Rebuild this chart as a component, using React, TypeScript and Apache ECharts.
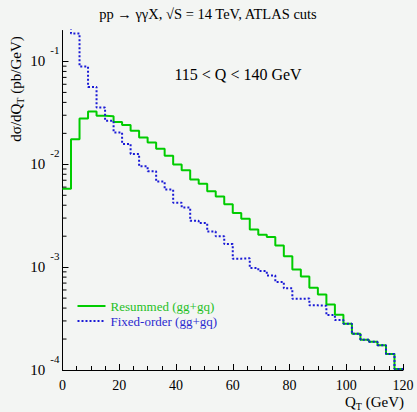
import React, { useEffect, useRef } from "react";
import * as echarts from "echarts";

const binStarts = [0, 3, 6, 9, 12, 15, 18, 21, 24, 27, 30, 33, 36, 39, 42, 45, 48, 51, 54, 57, 60, 63, 66, 69, 72, 75, 78, 81, 84, 87, 90, 93, 96, 99, 102, 105, 108, 111, 114, 117];
const binEnd = 120;

const resummed = [
  5.78e-3, 1.75e-2, 2.79e-2, 3.27e-2, 2.97e-2, 2.93e-2, 2.58e-2, 2.41e-2, 2.12e-2, 1.82e-2,
  1.63e-2, 1.42e-2, 1.21e-2, 9.97e-3, 8.75e-3, 7.1e-3, 6.46e-3, 5.46e-3, 4.86e-3, 4.09e-3,
  3.37e-3, 2.96e-3, 2.32e-3, 2.06e-3, 1.96e-3, 1.62e-3, 1.28e-3, 9.48e-4, 8.11e-4, 6.29e-4,
  5.42e-4, 4.34e-4, 3.44e-4, 2.82e-4, 2.25e-4, 1.97e-4, 1.88e-4, 1.74e-4, 1.43e-4, 1.02e-4,
];

const fixedOrder = [
  0.3, 0.187, 8.91e-2, 5.66e-2, 3.56e-2, 2.65e-2, 2.04e-2, 1.58e-2, 1.26e-2, 9.55e-3,
  8.55e-3, 6.79e-3, 5.68e-3, 4.24e-3, 3.8e-3, 2.82e-3, 2.68e-3, 2.22e-3, 2.0e-3, 1.68e-3,
  1.21e-3, 1.22e-3, 9.8e-4, 9.18e-4, 8.29e-4, 7.19e-4, 6.22e-4, 4.92e-4, 4.96e-4, 4.25e-4,
  4.21e-4, 3.42e-4, 3.06e-4, 2.82e-4, 2.25e-4, 1.97e-4, 1.88e-4, 1.74e-4, 1.43e-4, 1.02e-4,
];

const xTicks = [0, 20, 40, 60, 80, 100, 120];
const yMajorTicks = [1e-4, 1e-3, 1e-2, 1e-1];
const yMinorTicks: number[] = [];
for (const d of [1e-4, 1e-3, 1e-2]) {
  for (let m = 2; m <= 9; m++) yMinorTicks.push(m * d);
}

const seriesNames = ["Resummed (gg+gq)", "Fixed-order (gg+gq)"];

const GREEN = "#00cc00";
const BLUE = "#1a1ad6";
const FONT = "'Liberation Serif', 'DejaVu Serif', serif";
const BG = "#f3f5f3";

function stepData(vals: number[]) {
  const d = binStarts.map((x, i) => [x, vals[i]]);
  d.push([binEnd, vals[vals.length - 1]]);
  return d;
}

export default function App() {
  const ref = useRef<HTMLDivElement>(null);
  useEffect(() => {
    if (!ref.current) return;
    const chart = echarts.init(ref.current, null, { renderer: "svg" });
    chart.setOption({
      animation: false,
      backgroundColor: BG,
      grid: { left: 62.5, right: 14, top: 30.5, bottom: 42 },
      legend: {
        orient: "vertical",
        left: 76.5,
        top: 299.5,
        padding: 0,
        itemWidth: 28,
        itemHeight: 13,
        itemGap: 2,
        itemStyle: { opacity: 0 },
        data: [
          { name: seriesNames[0], textStyle: { color: "#1fc01f" } },
          { name: seriesNames[1], textStyle: { color: "#2b2bd0" } },
        ],
        textStyle: { fontFamily: FONT, fontSize: 13, lineHeight: 13 },
      },
      graphic: [
        {
          type: "text",
          left: "center",
          top: 6,
          style: { text: "pp → γγX, √S = 14 TeV, ATLAS cuts", font: `14.5px ${FONT}`, fill: "#000" },
        },
        {
          type: "text",
          x: 238,
          y: 74,
          style: { text: "115 < Q < 140 GeV", font: `16px ${FONT}`, fill: "#000", align: "center", verticalAlign: "middle" },
        },
        {
          type: "text",
          x: 16,
          y: 89,
          rotation: Math.PI / 2,
          style: {
            text: "{a|dσ/dQ}{t|T}{a| (pb/GeV)}",
            align: "center",
            verticalAlign: "middle",
            fill: "#000",
            rich: {
              a: { fontFamily: FONT, fontSize: 15, lineHeight: 18, verticalAlign: "middle" },
              t: { fontFamily: FONT, fontSize: 10, lineHeight: 10, verticalAlign: "bottom" },
            },
          },
        },
        {
          type: "text",
          x: 404,
          y: 402,
          style: {
            text: "{a|Q}{t|T}{a| (GeV)}",
            align: "right",
            verticalAlign: "middle",
            fill: "#000",
            rich: {
              a: { fontFamily: FONT, fontSize: 15, lineHeight: 18, verticalAlign: "middle" },
              t: { fontFamily: FONT, fontSize: 10, lineHeight: 10, verticalAlign: "bottom" },
            },
          },
        },
      ],
      xAxis: {
        type: "value",
        min: 0,
        max: 120,
        interval: 20,
        axisLine: { lineStyle: { color: "#000", width: 1 } },
        axisTick: { inside: true, length: 6, lineStyle: { color: "#000" }, customValues: xTicks },
        minorTick: { show: true, splitNumber: 4, length: 4, lineStyle: { color: "#000" } },
        splitLine: { show: false },
        axisLabel: { customValues: xTicks, fontFamily: FONT, fontSize: 14, color: "#000", margin: 8 },
      },
      yAxis: {
        type: "log",
        logBase: 10,
        min: 1e-4,
        max: 0.2,
        axisLine: { show: true, lineStyle: { color: "#000", width: 1 } },
        axisTick: { show: true, inside: true, length: 6, lineStyle: { color: "#000" }, customValues: yMajorTicks },
        splitLine: { show: false },
        axisLabel: {
          customValues: yMajorTicks,
          margin: 3,
          formatter: (v: number) => {
            const e = Math.round(Math.log10(v));
            return `{b|10}{g|}{s|${e}}`;
          },
          rich: {
            b: { fontFamily: FONT, fontSize: 15, lineHeight: 33, color: "#000", verticalAlign: "middle" },
            g: { width: 5 },
            s: { fontFamily: FONT, fontSize: 11, lineHeight: 11, color: "#000", verticalAlign: "top" },
          },
        },
      },
      series: [
        {
          name: seriesNames[0],
          type: "line",
          step: "end",
          symbol: "none",
          data: stepData(resummed),
          lineStyle: { color: GREEN, width: 2 },
          itemStyle: { color: GREEN },
          z: 3,
        },
        {
          name: seriesNames[1],
          type: "line",
          step: "end",
          symbol: "none",
          data: stepData(fixedOrder),
          lineStyle: { color: BLUE, width: 2, type: [2, 2] },
          itemStyle: { color: BLUE },
          z: 4,
        },
        {
          type: "custom",
          silent: true,
          clip: false,
          data: yMinorTicks.map((v) => [0, v]),
          renderItem: (params: any, api: any) => {
            const p = api.coord([0, api.value(1)]);
            return {
              type: "line",
              shape: { x1: p[0], y1: p[1], x2: p[0] + 4, y2: p[1] },
              style: { stroke: "#000", lineWidth: 1 },
            };
          },
          z: 5,
        },
      ],
    });
    return () => chart.dispose();
  }, []);
  return (
    <div
      ref={ref}
      style={{ position: "absolute", left: 0, top: 0, width: 417, height: 412, background: BG }}
    />
  );
}
